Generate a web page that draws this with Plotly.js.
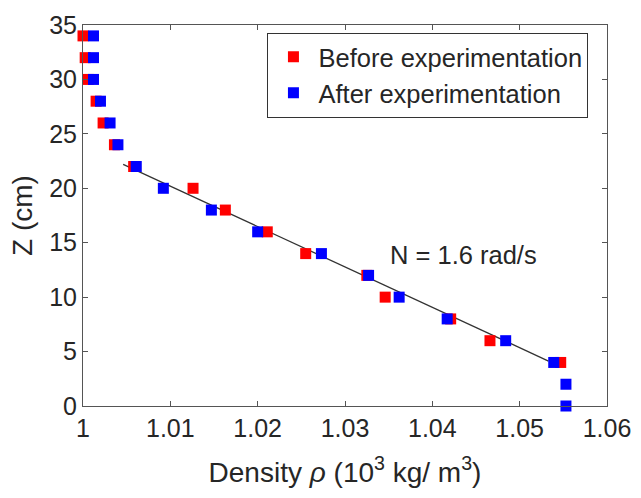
<!DOCTYPE html>
<html>
<head>
<meta charset="utf-8">
<script src="https://cdn.plot.ly/plotly-3.0.1.min.js"></script>
<style>html,body{margin:0;padding:0;background:#fff;}#chart{width:641px;height:498px;}</style>
</head>
<body>
<div id="chart"></div>
<script>
// Depth (cm)
const zBefore = [34, 32, 30, 28, 26, 24, 22, 20, 18, 16, 14, 12, 10, 8, 6, 4];
const rhoBefore = [1.0000, 1.00025, 1.0006, 1.0015, 1.0023, 1.0036, 1.0058, 1.0126, 1.0163, 1.0211, 1.0255, 1.0325, 1.0346, 1.0421, 1.0466, 1.0547];
const zAfter = [34, 32, 30, 28, 26, 24, 22, 20, 18, 16, 14, 12, 10, 8, 6, 4, 2, 0];
const rhoAfter = [1.0012, 1.0012, 1.0012, 1.0020, 1.0031, 1.0040, 1.0061, 1.0092, 1.0147, 1.0200, 1.0273, 1.0327, 1.0362, 1.0417, 1.0484, 1.0539, 1.0553, 1.0553];
// Linear fit line
const fitRho = [1.0046, 1.0533];
const fitZ = [22.2, 4.13];
// Ticks
const xTickVals = [1, 1.01, 1.02, 1.03, 1.04, 1.05, 1.06];
const xTickText = ['1', '1.01', '1.02', '1.03', '1.04', '1.05', '1.06'];
const yTickVals = [0, 5, 10, 15, 20, 25, 30, 35];
const seriesNames = ['Before experimentation', 'After experimentation'];
const annotationText = 'N = 1.6 rad/s';
const annotationPos = [1.0349, 13.87];

const FONT = 'Liberation Sans, Arial, Helvetica, sans-serif';
const axisColor = '#555555';
const textColor = '#262626';

const traces = [
  {x: fitRho, y: fitZ, mode: 'lines', line: {color: '#333333', width: 1.3}, showlegend: false, hoverinfo: 'skip'},
  {x: rhoBefore, y: zBefore, mode: 'markers', name: seriesNames[0], cliponaxis: false,
   marker: {symbol: 'square', size: 11, color: '#ff0000', line: {width: 0}}},
  {x: rhoAfter, y: zAfter, mode: 'markers', name: seriesNames[1], cliponaxis: false,
   marker: {symbol: 'square', size: 11, color: '#0000ff', line: {width: 0}}}
];

const layout = {
  width: 641, height: 498,
  margin: {l: 83, r: 34, t: 25, b: 92},
  paper_bgcolor: '#ffffff', plot_bgcolor: '#ffffff',
  font: {family: FONT, size: 25, color: textColor},
  showlegend: true,
  legend: {
    x: 0.352, y: 0.98, xanchor: 'left', yanchor: 'top',
    bgcolor: '#ffffff', bordercolor: '#333333', borderwidth: 1,
    font: {family: FONT, size: 25.5, color: textColor},
    tracegroupgap: 0, itemwidth: 40
  },
  xaxis: {
    range: [1, 1.06], tickvals: xTickVals, ticktext: xTickText,
    showgrid: false, zeroline: false, showline: true, mirror: 'ticks',
    linecolor: axisColor, linewidth: 1, ticks: 'inside', ticklen: 5, tickcolor: axisColor,
    tickfont: {family: FONT, size: 25, color: textColor},
    title: {text: 'Density <i>ρ</i> (10<sup>3</sup> kg/ m<sup>3</sup>)', font: {family: FONT, size: 28, color: textColor}, standoff: 21}
  },
  yaxis: {
    range: [0, 35], tickvals: yTickVals,
    showgrid: false, zeroline: false, showline: true, mirror: 'ticks',
    linecolor: axisColor, linewidth: 1, ticks: 'inside', ticklen: 5, tickcolor: axisColor,
    tickfont: {family: FONT, size: 25, color: textColor},
    title: {text: 'Z (cm)', font: {family: FONT, size: 28, color: textColor}, standoff: 8}
  },
  annotations: [{
    x: annotationPos[0], y: annotationPos[1], xref: 'x', yref: 'y',
    text: annotationText, showarrow: false, xanchor: 'left', yanchor: 'middle',
    font: {family: FONT, size: 25.5, color: textColor}
  }]
};

Plotly.newPlot('chart', traces, layout, {displayModeBar: false, staticPlot: true});
</script>
</body>
</html>
